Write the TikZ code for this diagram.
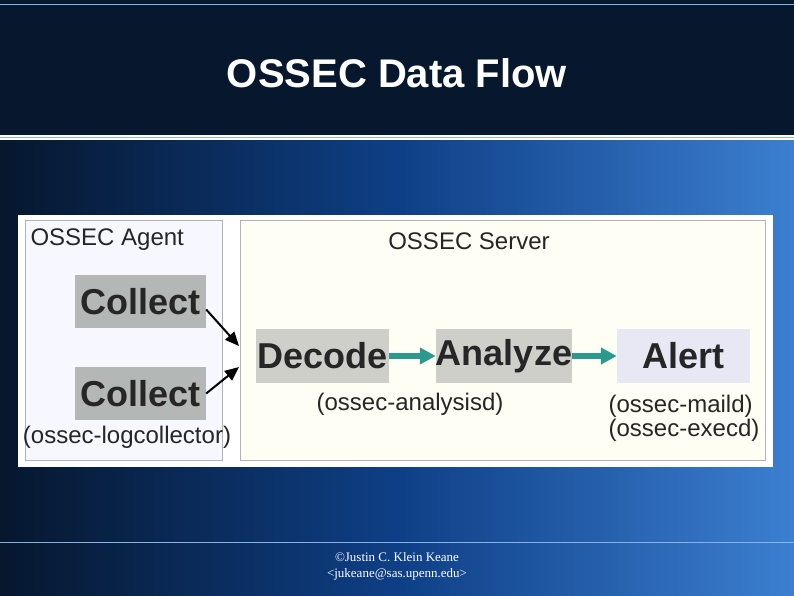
\documentclass[tikz,border=0pt]{standalone}
\usepackage{fontspec}
\setmainfont{Liberation Sans}
\usetikzlibrary{arrows.meta}
\definecolor{navy}{HTML}{06172E}
\definecolor{bluemid}{HTML}{0E3F86}
\definecolor{blueL}{HTML}{3C7FD0}
\definecolor{boxgray}{HTML}{B3B8B6}
\definecolor{decgray}{HTML}{CFCFCA}
\definecolor{alertc}{HTML}{E8E8F4}
\definecolor{teal}{HTML}{2A9A8C}
\tikzset{
 blk/.style={fill=#1, inner sep=0pt, font=\bfseries\fontsize{36}{36}\selectfont, text=black!85},
 lbl/.style={font=\fontsize{24}{24}\selectfont, text=black!85},
 tl/.style={-{Triangle[length=16pt,width=16pt]}, line width=6pt, teal},
 bl/.style={-{Triangle[length=14pt,width=12pt]}, line width=2pt, black}
}
\begin{document}
\begin{tikzpicture}[x=1pt,y=-1pt]
\useasboundingbox (0,0) rectangle (794,595);
\shade[left color=navy, right color=blueL, middle color=bluemid] (0,140) rectangle (794,595);
\fill[navy] (0,0) rectangle (794,135);
\draw[blueL!60, line width=1pt] (0,4) -- (794,4) (0,137) -- (794,137) (0,542) -- (794,542);
\node[font=\bfseries\fontsize{40}{40}\selectfont, text=white] (title) at (397,73) {OSSEC Data Flow};
\fill[white] (18,215) rectangle (773,467);
\node[draw=gray!60, fill=blue!3, minimum width=197, minimum height=240, inner sep=0pt] (agent) at (123.5,340) {};
\node[draw=gray!60, fill=yellow!4, minimum width=525, minimum height=240, inner sep=0pt] (server) at (502.5,340) {};
\node[lbl, anchor=west] (at) at (27,240) {OSSEC Agent};
\node[lbl] (st) at (469,241) {OSSEC Server};
\node[blk=boxgray, minimum width=131, minimum height=53] (c1) at (140.5,301.5) {Collect};
\node[blk=boxgray, minimum width=131, minimum height=53] (c2) at (140.5,393.5) {Collect};
\node[lbl] (lc) at (127,437) {(ossec-logcollector)};
\node[blk=decgray, minimum width=133, minimum height=54] (dec) at (322.5,356) {Decode};
\node[blk=decgray, minimum width=132, minimum height=54] (ana) at (504,356) {Analyze};
\node[blk=alertc, minimum width=133, minimum height=54] (al) at (683.5,356) {Alert};
\node[lbl] (as) at (410,404) {(ossec-analysisd)};
\node[lbl, align=left] (ml) at (684,418) {(ossec-maild)\\(ossec-execd)};
\coordinate (t1) at (239,346);
\coordinate (t2) at (239,367);
\draw[bl] (c1.east) ++(0,8) -- (t1);
\draw[bl] (c2.east) -- (t2);
\draw[tl] (dec.east) -- (ana.west);
\draw[tl] (ana.east) -- (al.west);
\node[font=\fontsize{13}{16}\selectfont, text=white, align=center] (cr) at (397,566) {\fontspec{Liberation Serif}©Justin C. Klein Keane\\\fontspec{Liberation Serif}<jukeane@sas.upenn.edu>};
\end{tikzpicture}
\end{document}
